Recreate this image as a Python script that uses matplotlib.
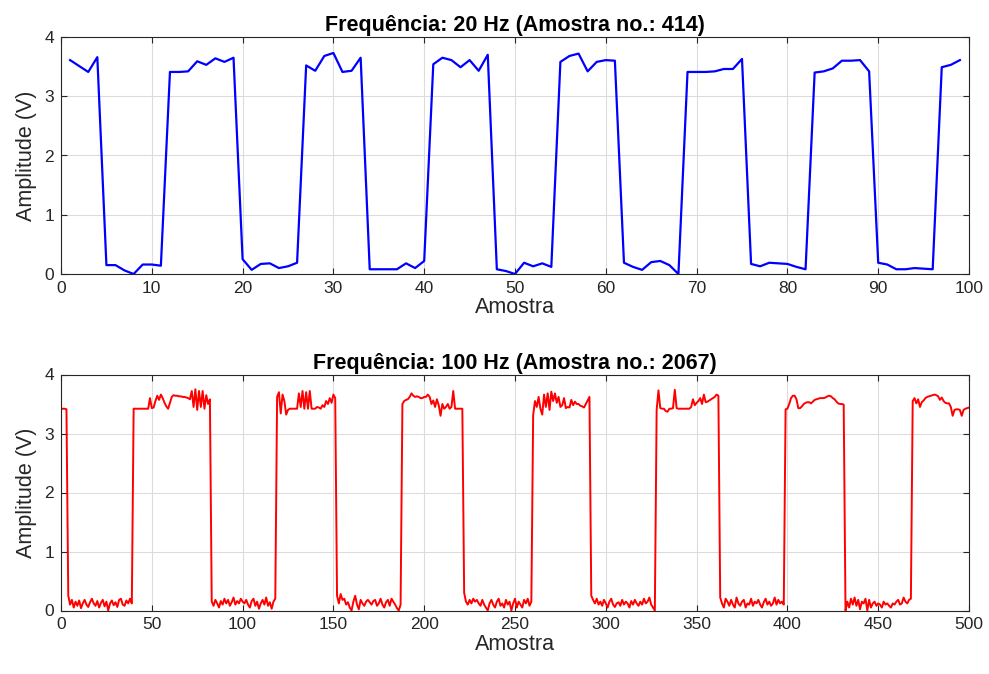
import numpy as np
import matplotlib
matplotlib.use("Agg")
import matplotlib.pyplot as plt

# ---------------- data ----------------
titulo_20 = "Frequência: 20 Hz (Amostra no.: 414)"
titulo_100 = "Frequência: 100 Hz (Amostra no.: 2067)"

amp_20hz = [
    3.61, 3.51, 3.41, 3.66, 0.15, 0.15, 0.06, 0.00, 0.16, 0.16,
    0.14, 3.41, 3.41, 3.42, 3.59, 3.53, 3.64, 3.58, 3.65, 0.25,
    0.07, 0.17, 0.18, 0.10, 0.13, 0.19, 3.52, 3.43, 3.68, 3.73,
    3.41, 3.43, 3.65, 0.08, 0.08, 0.08, 0.08, 0.18, 0.10, 0.22,
    3.54, 3.65, 3.61, 3.49, 3.61, 3.43, 3.70, 0.08, 0.05, 0.00,
    0.19, 0.13, 0.18, 0.12, 3.58, 3.68, 3.72, 3.42, 3.58, 3.61,
    3.60, 0.19, 0.12, 0.07, 0.20, 0.22, 0.15, 0.00, 3.41, 3.41,
    3.41, 3.42, 3.46, 3.46, 3.63, 0.17, 0.13, 0.19, 0.18, 0.17,
    0.12, 0.08, 3.40, 3.42, 3.47, 3.60, 3.60, 3.61, 3.42, 0.19,
    0.16, 0.08, 0.08, 0.10, 0.09, 0.08, 3.49, 3.53, 3.61,
]

# 100 Hz signal, written segment by segment (high / low levels)
h1 = [3.42, 3.42, 3.41]
l1 = [0.25, 0.10, 0.18, 0.05, 0.15, 0.08, 0.17, 0.04, 0.12, 0.18,
      0.10, 0.06, 0.14, 0.20, 0.12, 0.08, 0.16, 0.05, 0.13, 0.18,
      0.07, 0.15, 0.00, 0.12, 0.17, 0.09, 0.14, 0.06, 0.18, 0.20,
      0.10, 0.08, 0.17, 0.12, 0.20, 0.12]
h2 = [3.42, 3.42, 3.42, 3.42, 3.42, 3.42, 3.42, 3.42, 3.42, 3.60,
      3.43, 3.44, 3.55, 3.64, 3.57, 3.66, 3.60, 3.52, 3.46, 3.42,
      3.52, 3.62, 3.65, 3.64, 3.64, 3.63, 3.63, 3.62, 3.62, 3.61,
      3.60, 3.58, 3.72, 3.45, 3.75, 3.40, 3.72, 3.45, 3.72, 3.42,
      3.65, 3.50, 3.58]
l2 = [0.15, 0.08, 0.18, 0.12, 0.05, 0.16, 0.10, 0.20, 0.12, 0.18,
      0.08, 0.14, 0.22, 0.10, 0.16, 0.12, 0.20, 0.15, 0.12, 0.18,
      0.10, 0.05, 0.16, 0.20, 0.08, 0.15, 0.03, 0.12, 0.18, 0.10,
      0.22, 0.08, 0.14, 0.03, 0.15, 0.20]
h3 = [3.62, 3.70, 3.34, 3.66, 3.55, 3.32, 3.40, 3.42, 3.42, 3.42,
      3.42, 3.42, 3.68, 3.45, 3.72, 3.42, 3.70, 3.42, 3.72, 3.42,
      3.42, 3.42, 3.45, 3.44, 3.42, 3.48, 3.45, 3.55, 3.50, 3.60,
      3.52, 3.66, 3.60]
l3 = [0.25, 0.12, 0.28, 0.18, 0.20, 0.10, 0.14, 0.05, 0.00, 0.15,
      0.25, 0.10, 0.02, 0.18, 0.12, 0.08, 0.15, 0.18, 0.14, 0.10,
      0.16, 0.18, 0.08, 0.12, 0.20, 0.10, 0.05, 0.14, 0.18, 0.08,
      0.20, 0.15, 0.10, 0.04, 0.00, 0.10]
h4 = [3.50, 3.55, 3.57, 3.58, 3.62, 3.68, 3.64, 3.62, 3.63, 3.62,
      3.60, 3.60, 3.62, 3.62, 3.66, 3.62, 3.50, 3.56, 3.45, 3.58,
      3.48, 3.30, 3.50, 3.42, 3.45, 3.50, 3.42, 3.45, 3.72, 3.42,
      3.42, 3.42, 3.42, 3.42]
l4 = [0.30, 0.15, 0.10, 0.18, 0.12, 0.20, 0.15, 0.18, 0.12, 0.08,
      0.18, 0.10, 0.05, 0.00, 0.12, 0.18, 0.10, 0.05, 0.15, 0.20,
      0.08, 0.12, 0.05, 0.18, 0.10, 0.15, 0.00, 0.12, 0.20, 0.05,
      0.15, 0.10, 0.05, 0.18, 0.12, 0.20, 0.08, 0.15]
h5 = [3.31, 3.55, 3.45, 3.62, 3.42, 3.32, 3.66, 3.45, 3.68, 3.40,
      3.71, 3.55, 3.68, 3.52, 3.62, 3.45, 3.48, 3.60, 3.43, 3.45,
      3.44, 3.57, 3.48, 3.54, 3.50, 3.50, 3.47, 3.46, 3.44, 3.50,
      3.56, 3.62]
l5 = [0.25, 0.18, 0.12, 0.20, 0.10, 0.15, 0.08, 0.18, 0.12, 0.05,
      0.15, 0.20, 0.10, 0.06, 0.12, 0.14, 0.08, 0.18, 0.10, 0.15,
      0.12, 0.05, 0.16, 0.10, 0.18, 0.12, 0.08, 0.15, 0.10, 0.20,
      0.12, 0.15, 0.22, 0.10, 0.05, 0.00]
h6 = [3.40, 3.73, 3.43, 3.42, 3.42, 3.38, 3.37, 3.42, 3.42, 3.43,
      3.74, 3.43, 3.42, 3.42, 3.42, 3.42, 3.42, 3.42, 3.42, 3.45,
      3.58, 3.48, 3.52, 3.55, 3.60, 3.50, 3.66, 3.53, 3.54, 3.56,
      3.58, 3.60, 3.62, 3.66, 3.64]
l6 = [0.22, 0.12, 0.05, 0.20, 0.15, 0.08, 0.18, 0.10, 0.05, 0.22,
      0.12, 0.08, 0.15, 0.18, 0.05, 0.12, 0.10, 0.20, 0.08, 0.15,
      0.12, 0.18, 0.10, 0.05, 0.14, 0.20, 0.10, 0.15, 0.08, 0.12,
      0.22, 0.10, 0.18, 0.12, 0.15, 0.10]
h7 = [3.41, 3.42, 3.50, 3.60, 3.64, 3.64, 3.58, 3.43, 3.43, 3.46,
      3.50, 3.52, 3.53, 3.53, 3.51, 3.54, 3.57, 3.58, 3.59, 3.60,
      3.60, 3.60, 3.61, 3.63, 3.64, 3.63, 3.60, 3.58, 3.54, 3.51,
      3.50, 3.50, 3.49]
l7 = [0.00, 0.15, 0.05, 0.20, 0.10, 0.22, 0.08, 0.18, 0.02, 0.15,
      0.12, 0.20, 0.00, 0.18, 0.05, 0.12, 0.15, 0.08, 0.12, 0.10,
      0.05, 0.15, 0.10, 0.12, 0.08, 0.05, 0.12, 0.10, 0.15, 0.18,
      0.10, 0.12, 0.22, 0.15, 0.12, 0.18, 0.20]
h8 = [3.55, 3.60, 3.51, 3.58, 3.45, 3.53, 3.56, 3.60, 3.62, 3.63,
      3.64, 3.65, 3.66, 3.65, 3.63, 3.57, 3.61, 3.55, 3.52, 3.51,
      3.51, 3.45, 3.30, 3.40, 3.41, 3.41, 3.40, 3.30, 3.40, 3.42,
      3.43, 3.44]

amp_100hz = (h1 + l1 + h2 + l2 + h3 + l3 + h4 + l4 + h5 + l5 +
             h6 + l6 + h7 + l7 + h8)
if len(amp_100hz) != 500:
    raise ValueError(f"100 Hz series has {len(amp_100hz)} samples")

x_20 = np.arange(1, len(amp_20hz) + 1)
x_100 = np.arange(1, len(amp_100hz) + 1)

xticks_20 = list(range(0, 101, 10))
xticks_100 = list(range(0, 501, 50))
yticks = [0, 1, 2, 3, 4]

# ---------------- style ----------------
plt.rcParams['font.family'] = ['Liberation Sans', 'DejaVu Sans']
TXT = '#262626'

fig = plt.figure(figsize=(9.89, 6.74), dpi=100)
ax1 = fig.add_axes([61 / 989, 1 - 274 / 674, 908 / 989, 237 / 674])
ax2 = fig.add_axes([61 / 989, 1 - 610.5 / 674, 908 / 989, 236 / 674])


def style(ax, xlim, xticks, title):
    ax.set_xlim(*xlim)
    ax.set_ylim(0, 4)
    ax.set_xticks(xticks)
    ax.set_yticks(yticks)
    ax.grid(True, color='#dcdcdc', linewidth=0.8)
    ax.set_axisbelow(True)
    ax.tick_params(direction='in', top=True, right=True, length=4,
                   width=0.8, colors=TXT, labelsize=12.5, pad=5)
    for s in ax.spines.values():
        s.set_color('#262626')
        s.set_linewidth(0.8)
    ax.set_xlabel('Amostra', fontsize=15.5, color=TXT, labelpad=1)
    ax.set_ylabel('Amplitude (V)', fontsize=15.5, color=TXT, labelpad=5)
    ax.set_title(title, fontsize=15.5, fontweight='bold', color='black',
                 pad=4)


ax1.plot(x_20, amp_20hz, color='#0000ff', linewidth=1.6)
style(ax1, (0, 100), xticks_20, titulo_20)

ax2.plot(x_100, amp_100hz, color='#ff0000', linewidth=1.4)
style(ax2, (0, 500), xticks_100, titulo_100)

fig.savefig('out.png', dpi=100, facecolor='white')
